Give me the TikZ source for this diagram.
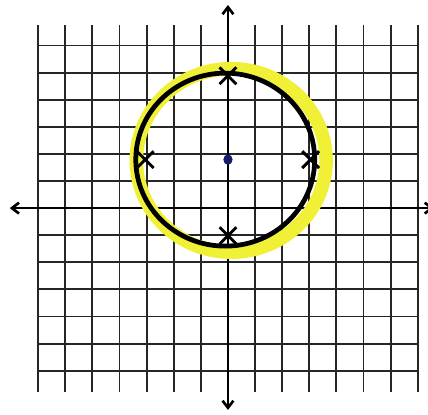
\documentclass[tikz,border=0pt]{standalone}
\usetikzlibrary{arrows.meta,shapes.misc}
\definecolor{hilite}{RGB}{240,240,55}
\definecolor{inkblue}{RGB}{25,25,105}
\begin{document}
\begin{tikzpicture}[x=1cm, y=0.967cm,
  gridline/.style={line width=2pt, black!85},
  axisline/.style={line width=2.8pt, black,
    {Straight Barb[length=2.6mm,width=4mm]}-{Straight Barb[length=2.6mm,width=4mm]}},
  xmark/.style={cross out, draw, line width=3pt, minimum size=0.62cm, inner sep=0pt, outer sep=0pt}]
  \useasboundingbox (-8.41,-7.86) rectangle (7.38,7.94);
  \clip (-8.41,-7.86) rectangle (7.38,7.94);
  \fill[white] (-8.41,-7.86) rectangle (7.38,7.94);
  \draw[gridline] (-7,-7) grid (7,7);
  \coordinate (west) at (-8.05,0);
  \coordinate (east) at (7.6,0);
  \coordinate (south) at (0,-7.7);
  \coordinate (north) at (0,7.75);
  \draw[axisline] (west) -- (east);
  \draw[axisline] (south) -- (north);
  \draw[hilite, line width=0.5cm] (0.12,1.82) circle (3.5);
  \draw[black, line width=5pt] (-0.1,1.85) circle (3.3);
  \fill[inkblue] (0,1.85) ellipse (0.17 and 0.2);
  \node[xmark] (top) at (0,5.05) {};
  \node[xmark] (bottom) at (0,-1.05) {};
  \node[xmark] (left) at (-3.05,1.85) {};
  \node[xmark] (right) at (3.05,1.85) {};
\end{tikzpicture}
\end{document}
